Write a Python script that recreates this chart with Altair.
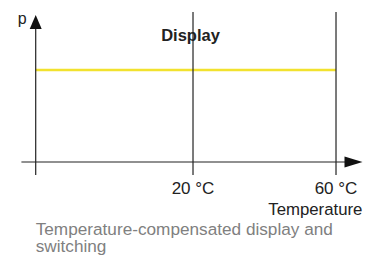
import altair as alt
import pandas as pd

# ---- data (schematic units: x in °C, y in relative p) ----
tick_temps = [20, 60]
tick_labels = ["20 °C", "60 °C"]
display_level = [1.0]          # constant display value
display_span = [-24, 60]       # from axis origin to 60 °C
axis_origin_x = -24
axis_origin_y = 0.0
x_axis_span = [-28, 63]
y_axis_span = [-0.141, 1.46]
guide_span = [-0.141, 1.63]
title_text = "Display"
x_title = "Temperature"
y_title = "p"
caption = ["Temperature-compensated display and", "switching"]

X_DOM = [-31.75, 67.55]
Y_DOM = [-1.0326, 1.674]
FONT = "Liberation Sans"
INK = "#222222"

xs = alt.Scale(domain=X_DOM, nice=False, zero=False)
ys = alt.Scale(domain=Y_DOM, nice=False, zero=False)

def X(f):
    return alt.X(f, type="quantitative", scale=xs, axis=None)

def Y(f):
    return alt.Y(f, type="quantitative", scale=ys, axis=None)

# axes and guide lines
rules = pd.DataFrame({
    "x": [x_axis_span[0], axis_origin_x] + tick_temps,
    "x2": [x_axis_span[1], axis_origin_x] + tick_temps,
    "y": [axis_origin_y, y_axis_span[0]] + [guide_span[0]] * 2,
    "y2": [axis_origin_y, y_axis_span[1]] + [guide_span[1]] * 2,
})
rule_layer = alt.Chart(rules).mark_rule(color=INK, strokeWidth=1.2).encode(
    x=X("x"), x2="x2", y=Y("y"), y2="y2"
)

disp = pd.DataFrame({"x": [display_span[0]], "x2": [display_span[1]], "y": display_level})
disp_layer = alt.Chart(disp).mark_rule(color="#F2E22E", strokeWidth=2.5).encode(
    x=X("x"), x2="x2", y=Y("y")
)

# arrow heads
up_arrow = alt.Chart(pd.DataFrame({"x": [axis_origin_x], "y": [1.522]})).mark_point(
    shape="M-0.857,1 L0,-1 L0.857,1 Z", filled=True, size=196, opacity=1,
    color="#111111", strokeWidth=0
).encode(x=X("x"), y=Y("y"))

right_arrow = alt.Chart(pd.DataFrame({"x": [64.9], "y": [axis_origin_y]})).mark_point(
    shape="M-1,-0.6 L1,0 L-1,0.6 Z", filled=True, size=324, opacity=1,
    color="#111111", strokeWidth=0
).encode(x=X("x"), y=Y("y"))

# texts
tick_df = pd.DataFrame({"x": tick_temps, "y": [-0.348] * 2, "t": tick_labels})
tick_layer = alt.Chart(tick_df).mark_text(
    font=FONT, fontSize=17, color=INK, align="center", baseline="alphabetic"
).encode(x=X("x"), y=Y("y"), text="t:N")

xt = alt.Chart(pd.DataFrame({"x": [67.4], "y": [-0.571], "t": [x_title]})).mark_text(
    font=FONT, fontSize=16.8, color=INK, align="right", baseline="alphabetic"
).encode(x=X("x"), y=Y("y"), text="t:N")

yt = alt.Chart(pd.DataFrame({"x": [-27.8], "y": [1.50], "t": [y_title]})).mark_text(
    font=FONT, fontSize=16, color=INK, align="center", baseline="alphabetic"
).encode(x=X("x"), y=Y("y"), text="t:N")

tt = alt.Chart(pd.DataFrame({"x": [19.3], "y": [1.315], "t": [title_text]})).mark_text(
    font=FONT, fontSize=16.5, fontWeight="bold", color=INK, align="center", baseline="alphabetic"
).encode(x=X("x"), y=Y("y"), text="t:N")

cap = alt.Chart(pd.DataFrame({"x": [axis_origin_x] * 2, "y": [-0.790, -0.978], "t": caption})).mark_text(
    font=FONT, fontSize=17.2, color="#808080", align="left", baseline="alphabetic"
).encode(x=X("x"), y=Y("y"), text="t:N")

chart = alt.layer(
    disp_layer, rule_layer, up_arrow, right_arrow, tick_layer, xt, yt, tt, cap
).properties(
    width=355, height=249, padding=0, autosize=alt.AutoSizeParams(type="none")
).configure_view(stroke=None)

chart.save("out.html", embed_options={"renderer": "svg", "actions": False})
